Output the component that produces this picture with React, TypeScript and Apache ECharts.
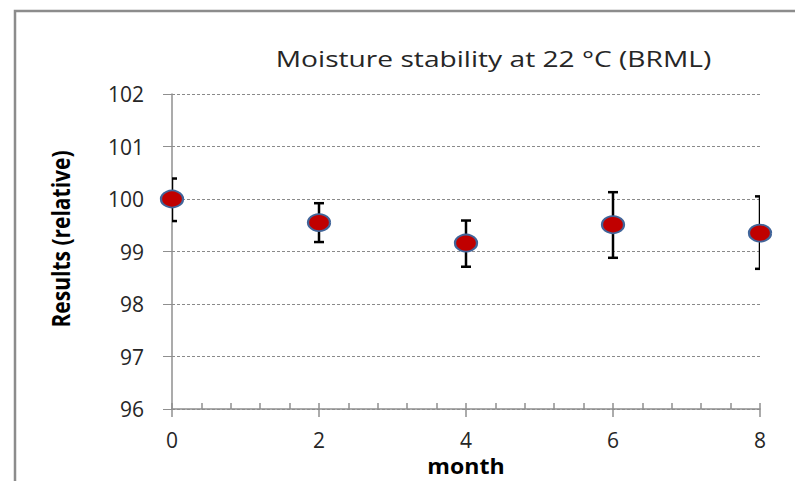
import React, { useEffect, useRef } from "react";
import * as echarts from "echarts";

const months = [0, 2, 4, 6, 8];
const results = [100.0, 99.55, 99.16, 99.51, 99.35];
const errLow = [99.58, 99.18, 98.71, 98.88, 98.67];
const errHigh = [100.39, 99.92, 99.59, 100.13, 100.05];
const xTicks = [0, 2, 4, 6, 8];
const yTicks = [96, 97, 98, 99, 100, 101, 102];

const titleText = "Moisture stability at 22 °C (BRML)";
const xName = "month";
const yName = "Results (relative)";

const FONT = '"Open Sans", "Liberation Sans", sans-serif';
const GRAY = "#8f8f8f";
const TEXT = "#262626";

export default function App() {
  const ref = useRef<HTMLDivElement>(null);
  useEffect(() => {
    if (!ref.current) return;
    const chart = echarts.init(ref.current, undefined, { renderer: "svg" });
    const errData = months.map((m, i) => [m, errLow[i], errHigh[i]]);
    const ptData = months.map((m, i) => [m, results[i]]);
    const xMin = xTicks[0];
    const xMax = xTicks[xTicks.length - 1];
    const yMin = yTicks[0];
    const yMax = yTicks[yTicks.length - 1];
    chart.setOption({
      animation: false,
      backgroundColor: "#ffffff",
      grid: { left: 172, top: 94, width: 588, height: 315 },
      xAxis: [
        {
          type: "value",
          min: xMin,
          max: xMax,
          interval: 2,
          position: "bottom",
          axisLine: { show: true, lineStyle: { color: GRAY, width: 1.5 } },
          axisTick: { show: true, inside: true, length: 6, lineStyle: { color: GRAY, width: 1.5 } },
          minorTick: { show: true, splitNumber: 5, length: 6, lineStyle: { color: GRAY, width: 1.5 } },
          axisLabel: { fontSize: 21, fontFamily: FONT, color: TEXT, margin: 20 },
          splitLine: { show: false },
          minorSplitLine: { show: false },
        },
        {
          type: "value",
          min: xMin,
          max: xMax,
          interval: 2,
          position: "bottom",
          offset: 0,
          axisLine: { show: false },
          axisTick: { show: true, inside: false, length: 8, lineStyle: { color: GRAY, width: 1.5 } },
          axisLabel: { show: false },
          splitLine: { show: false },
        },
      ],
      yAxis: {
        type: "value",
        min: yMin,
        max: yMax,
        interval: 1,
        axisLine: { show: true, lineStyle: { color: GRAY, width: 1.5 } },
        axisTick: { show: true, inside: false, length: 9, lineStyle: { color: GRAY, width: 1 } },
        axisLabel: { fontSize: 21, fontFamily: FONT, color: TEXT, margin: 28 },
        splitLine: { show: true, lineStyle: { color: "#8a8a8a", width: 1, type: [3, 2] } },
      },
      series: [
        {
          type: "custom",
          name: "error",
          clip: true,
          z: 2,
          data: errData,
          renderItem: (params: any, api: any) => {
            const x = api.value(0);
            const lo = api.coord([x, api.value(1)]);
            const hi = api.coord([x, api.value(2)]);
            const cap = 5;
            const style = { stroke: "#000000", lineWidth: 2.5 };
            return {
              type: "group",
              children: [
                { type: "line", shape: { x1: hi[0], y1: hi[1], x2: lo[0], y2: lo[1] }, style },
                { type: "line", shape: { x1: hi[0] - cap, y1: hi[1], x2: hi[0] + cap, y2: hi[1] }, style },
                { type: "line", shape: { x1: lo[0] - cap, y1: lo[1], x2: lo[0] + cap, y2: lo[1] }, style },
              ],
            };
          },
        },
        {
          type: "scatter",
          name: "results",
          clip: false,
          z: 3,
          data: ptData,
          symbol: "circle",
          symbolSize: [22, 17],
          itemStyle: { color: "#c00000", borderColor: "#41659a", borderWidth: 2, opacity: 1 },
        },
      ],
      graphic: [
        {
          type: "rect",
          shape: { x: 15, y: 11, width: 820, height: 520 },
          style: { fill: "none", stroke: "#8c8c8c", lineWidth: 2.5 },
          silent: true,
        },
        {
          type: "text",
          x: 493.5,
          y: 58.5,
          scaleX: 1.28,
          style: {
            text: titleText,
            fontSize: 22,
            fontFamily: FONT,
            fill: TEXT,
            align: "center",
            verticalAlign: "middle",
          },
        },
        {
          type: "text",
          x: 466,
          y: 466,
          scaleX: 1.05,
          style: {
            text: xName,
            fontSize: 22,
            fontWeight: "bold",
            fontFamily: FONT,
            fill: "#000000",
            align: "center",
            verticalAlign: "middle",
          },
        },
        {
          type: "text",
          x: 60,
          y: 239,
          rotation: Math.PI / 2,
          scaleY: 1.2,
          style: {
            text: yName,
            fontSize: 21,
            fontWeight: "bold",
            fontFamily: FONT,
            fill: "#000000",
            align: "center",
            verticalAlign: "middle",
          },
        },
      ],
    });
    return () => chart.dispose();
  }, []);
  return (
    <div
      ref={ref}
      style={{ position: "absolute", left: 0, top: 0, width: 795, height: 481 }}
    />
  );
}
